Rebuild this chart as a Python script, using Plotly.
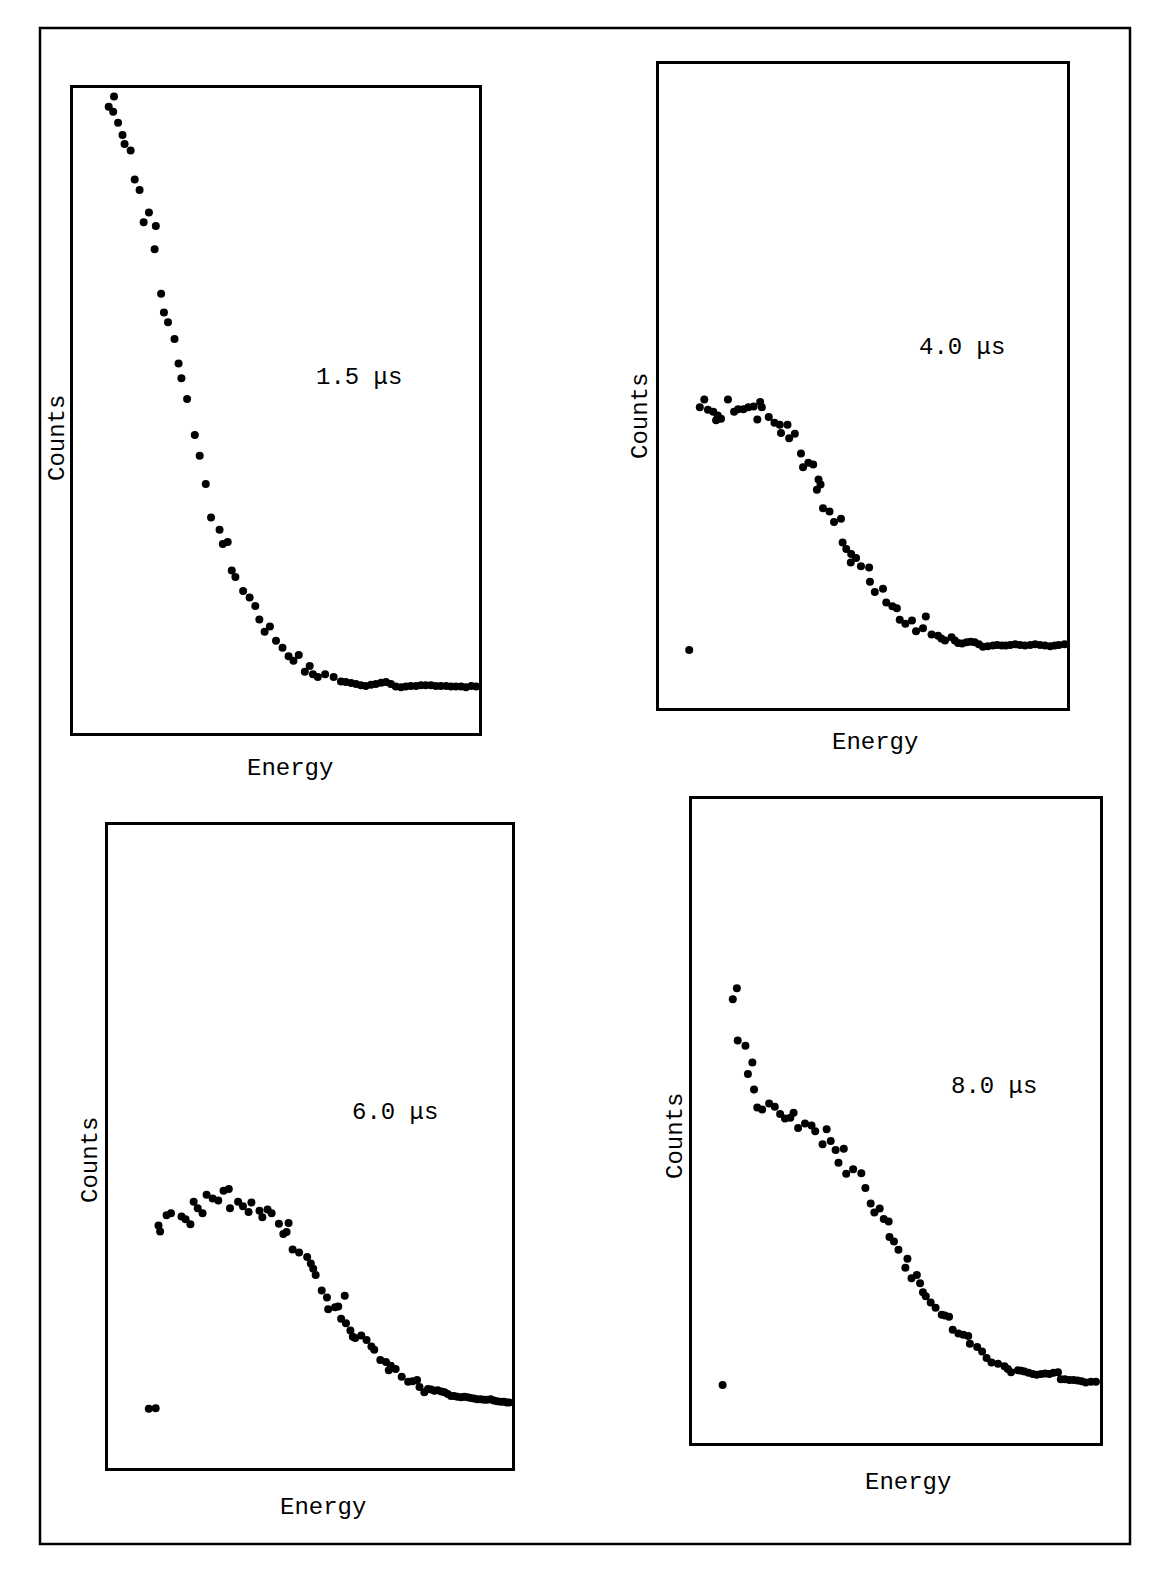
import plotly.graph_objects as go

# ---- spectra: energy channel (0-100) vs counts (0-100, arbitrary units) ----
energy_15us = [10.1, 8.8, 9.9, 11.1, 12.2, 12.7, 14.2, 15.2, 16.4, 18.7,
               17.4, 20.4, 20.1, 21.7, 22.4, 23.4, 25.0, 26.0, 26.7, 28.1,
               30.0, 31.2, 32.7, 34.0, 36.1, 36.9, 38.1, 39.1, 40.0, 41.9,
               43.5, 44.9, 45.9, 48.5, 47.2, 50.0, 51.6, 53.1, 54.3, 55.6,
               57.1, 58.3, 59.1, 60.3, 62.1, 64.2,
               66.0, 67.2, 68.5, 69.7, 70.9, 72.1, 73.4, 74.6, 75.9, 77.1,
               78.3, 79.5, 80.8, 82.0, 83.2, 84.5, 85.7, 86.9, 88.2, 89.4,
               90.6, 91.9, 93.1, 94.3, 95.6, 96.8, 98.1, 99.3]
counts_15us = [98.7, 97.1, 96.3, 94.6, 92.7, 91.3, 90.3, 85.8, 84.2, 80.7,
               79.2, 78.6, 75.0, 68.1, 65.2, 63.7, 61.1, 57.3, 55.0, 51.8,
               46.2, 43.0, 38.6, 33.4, 31.5, 29.3, 29.6, 25.2, 24.2, 22.0,
               21.0, 19.7, 17.6, 16.5, 15.7, 14.3, 13.2, 11.9, 11.2, 12.1,
               9.5, 10.4, 9.1, 8.7, 9.1, 8.7,
               8.0, 7.9, 7.75, 7.6, 7.4, 7.3, 7.5, 7.6, 7.8, 7.9,
               7.6, 7.2, 7.1, 7.2, 7.3, 7.3, 7.4, 7.4, 7.4, 7.3,
               7.3, 7.3, 7.2, 7.2, 7.2, 7.1, 7.3, 7.2]

energy_40us = [7.4,
               10.0, 11.1, 12.0, 13.3, 14.0, 14.4, 15.2, 16.9, 18.4, 19.4,
               20.7, 21.9, 23.2, 24.1, 24.8, 25.2, 26.9, 28.3, 29.6, 29.9,
               31.5, 31.9, 33.3, 34.8, 35.3, 36.6, 37.8, 38.7, 39.1, 39.6,
               40.2, 41.8, 42.9, 44.6, 45.0, 45.9, 47.0, 47.1, 48.3, 49.5,
               51.5, 51.7, 52.9, 54.9, 55.7, 57.2, 58.3, 59.0, 60.4, 62.0,
               63.0, 64.7, 65.4, 66.8, 68.4, 70.1, 71.7, 73.3, 75.4, 77.4,
               79.4, 81.9, 84.0, 86.1, 88.5, 91.0, 93.4, 95.9, 98.0, 99.4,
               69.2, 72.5, 74.3, 76.4, 78.4, 80.6, 82.9, 85.0, 87.3, 89.7,
               92.2, 94.6, 97.0]
counts_40us = [9.0,
               46.7, 47.9, 46.3, 46.0, 44.7, 45.4, 44.9, 47.9, 46.0, 46.4,
               46.4, 46.7, 46.8, 44.8, 47.5, 46.7, 45.2, 44.3, 44.0, 42.7,
               44.0, 41.9, 42.6, 39.5, 37.4, 38.1, 37.8, 33.9, 35.5, 34.7,
               31.0, 30.5, 28.9, 29.4, 25.7, 24.7, 22.6, 23.9, 23.3, 22.0,
               21.8, 19.6, 18.0, 18.5, 16.4, 15.8, 15.5, 13.7, 13.1, 13.6,
               11.9, 12.4, 14.2, 11.4, 11.2, 10.5, 11.0, 10.1, 10.2, 10.2,
               9.5, 9.7, 9.7, 9.8, 9.8, 9.8, 9.8, 9.6, 9.8, 9.9,
               10.8, 10.5, 10.0, 10.3, 9.9, 9.6, 9.8, 9.7, 9.9, 9.7,
               9.9, 9.7, 9.7]

energy_60us = [10.1, 11.8,
               12.5, 12.9, 14.5, 15.6, 18.2, 19.2, 20.4, 21.2, 22.2, 23.4,
               24.4, 25.9, 27.3, 28.6, 29.9, 30.2, 32.2, 33.4, 34.8, 35.5,
               37.5, 38.2, 39.5, 40.5, 42.3, 43.4, 44.2, 44.7, 45.7, 47.3,
               49.3, 50.2, 50.8, 51.4, 52.9, 54.2, 54.5, 56.2, 57.0, 58.6,
               57.7, 58.9, 60.0, 60.6, 61.2, 62.7, 64.0, 65.2, 65.9, 67.4,
               68.8, 69.5, 70.0, 71.2, 72.7, 74.3, 76.5, 77.1, 78.3, 80.0,
               81.6, 83.3, 84.9, 86.5, 88.2, 89.8, 91.4, 93.1, 94.7, 96.3,
               98.0, 99.3,
               75.4, 79.2, 80.8, 82.5, 84.1, 85.7, 87.4, 89.0, 90.6, 92.3,
               93.9, 95.5, 97.2, 98.7]
counts_60us = [9.2, 9.3,
               37.7, 36.8, 39.3, 39.6, 39.1, 38.7, 37.9, 41.4, 40.4, 39.6,
               42.5, 41.9, 41.6, 43.1, 43.4, 40.4, 41.4, 40.7, 39.8, 41.3,
               40.0, 39.0, 40.2, 39.6, 38.0, 36.4, 36.7, 38.1, 34.0, 33.5,
               32.8, 31.8, 31.0, 30.0, 27.6, 26.5, 24.7, 25.0, 25.1, 26.8,
               23.2, 22.5, 21.4, 20.4, 20.2, 20.6, 19.9, 18.9, 18.4, 16.8,
               16.5, 15.2, 15.9, 15.4, 14.2, 13.4, 13.7, 12.6, 11.8, 12.2,
               12.1, 11.8, 11.2, 11.1, 11.1, 10.9, 10.7, 10.6, 10.7, 10.4,
               10.3, 10.2,
               13.5, 12.3, 12.0, 11.9, 11.5, 11.2, 11.0, 11.0, 10.8, 10.7,
               10.6, 10.5, 10.3, 10.2]

energy_80us = [7.5,
               11.0, 10.0, 11.2, 13.1, 14.8, 13.7, 15.2, 16.0, 17.2, 18.9,
               20.3, 21.6, 22.8, 24.1, 24.9, 26.0, 27.7, 29.3, 30.2, 33.0,
               32.0, 34.0, 35.2, 37.2, 35.9, 37.8, 39.5, 41.5, 42.5, 43.8,
               44.7, 46.0, 47.0, 48.2, 48.4, 49.5, 50.6, 52.8, 52.3, 53.8,
               55.1, 55.9, 56.6, 57.3, 59.7, 61.2, 63.0, 63.9, 65.3, 67.7,
               68.1, 69.9, 71.1, 72.2, 73.4, 75.0, 76.6, 78.2, 79.9, 81.5,
               83.5, 85.6, 87.6, 89.7, 90.4, 92.5, 94.5, 96.5, 99.0,
               58.5, 62.0, 66.5, 77.4, 80.7, 82.5, 84.5, 86.6, 88.6, 91.4,
               93.5, 95.5, 97.8]
counts_80us = [9.0,
               70.6, 68.9, 62.5, 61.7, 59.1, 57.3, 54.9, 52.1, 51.8, 52.7,
               52.2, 51.1, 50.4, 50.5, 51.3, 48.9, 49.6, 49.3, 48.4, 48.7,
               46.4, 46.9, 45.5, 45.7, 43.5, 41.8, 42.5, 41.9, 39.6, 37.2,
               35.8, 36.4, 34.8, 34.4, 32.0, 31.3, 30.0, 28.6, 27.2, 25.6,
               26.1, 24.8, 23.4, 22.8, 21.0, 19.9, 19.6, 17.6, 17.0, 16.6,
               15.4, 14.9, 14.2, 13.2, 12.5, 12.3, 11.9, 11.0, 11.3, 11.1,
               10.7, 10.7, 10.7, 11.0, 9.9, 9.8, 9.7, 9.4, 9.5,
               21.8, 19.8, 16.8, 11.5, 11.2, 10.9, 10.6, 10.8, 10.9, 9.9,
               9.8, 9.6, 9.5]

delay_labels = ["1.5 \u03bcs", "4.0 \u03bcs", "6.0 \u03bcs", "8.0 \u03bcs"]
x_label = "Energy"
y_label = "Counts"

spectra = [(energy_15us, counts_15us), (energy_40us, counts_40us),
           (energy_60us, counts_60us), (energy_80us, counts_80us)]

# ---- page geometry (pixels on a 1159 x 1570 page) ----
W, H = 1159, 1570
FONT = "Liberation Mono, Courier New, monospace"

# plot boxes: (left, top, right, bottom)
boxes = [(73, 88, 479, 733), (659, 64, 1067, 708),
         (108, 825, 512, 1468), (692, 799, 1100, 1443)]
# label anchor points: (Counts x, Counts y), (Energy x, Energy y), (delay x, delay y)
label_pos = [((58, 438), (290, 768), (359, 377)),
             ((641, 416), (875, 742), (962, 347)),
             ((90, 1160), (323, 1507), (395, 1112)),
             ((675, 1136), (908, 1482), (994, 1086))]


def px(x):
    return x / W


def py(y):
    return 1 - y / H


fig = go.Figure()
layout = dict(
    width=W, height=H,
    margin=dict(l=0, r=0, t=0, b=0),
    paper_bgcolor="white", plot_bgcolor="white",
    showlegend=False,
    font=dict(family=FONT, color="black", size=24),
)

annotations = []
for i, ((ex, cy), box, pos, tag) in enumerate(zip(spectra, boxes, label_pos, delay_labels)):
    n = "" if i == 0 else str(i + 1)
    left, top, right, bottom = box
    axis_style = dict(range=[0, 100], showticklabels=False, ticks="",
                      showgrid=False, zeroline=False, showline=True,
                      mirror=True, linecolor="black", linewidth=2.6,
                      fixedrange=True)
    layout["xaxis" + n] = dict(domain=[px(left), px(right)],
                               anchor="y" + n, **axis_style)
    layout["yaxis" + n] = dict(domain=[py(bottom), py(top)],
                               anchor="x" + n, **axis_style)
    fig.add_trace(go.Scatter(
        x=ex, y=cy, mode="markers",
        xaxis="x" + n, yaxis="y" + n,
        marker=dict(size=8, color="black", line=dict(width=0)),
        cliponaxis=False, hoverinfo="skip",
    ))
    (cx_, cy_), (ex_, ey_), (tx_, ty_) = pos
    text_font = dict(family=FONT, color="black", size=24)
    annotations.append(dict(text=y_label, x=px(cx_), y=py(cy_), xref="paper",
                            yref="paper", showarrow=False, textangle=-90,
                            xanchor="center", yanchor="middle", font=text_font))
    annotations.append(dict(text=x_label, x=px(ex_), y=py(ey_), xref="paper",
                            yref="paper", showarrow=False,
                            xanchor="center", yanchor="middle", font=text_font))
    annotations.append(dict(text=tag, x=px(tx_), y=py(ty_), xref="paper",
                            yref="paper", showarrow=False,
                            xanchor="center", yanchor="middle", font=text_font))

layout["annotations"] = annotations
# outer page frame
layout["shapes"] = [dict(type="rect", xref="paper", yref="paper",
                         x0=px(40), x1=px(1130), y0=py(1544), y1=py(28),
                         line=dict(color="black", width=2.5))]

fig.update_layout(**layout)
fig.write_html("out.html")
